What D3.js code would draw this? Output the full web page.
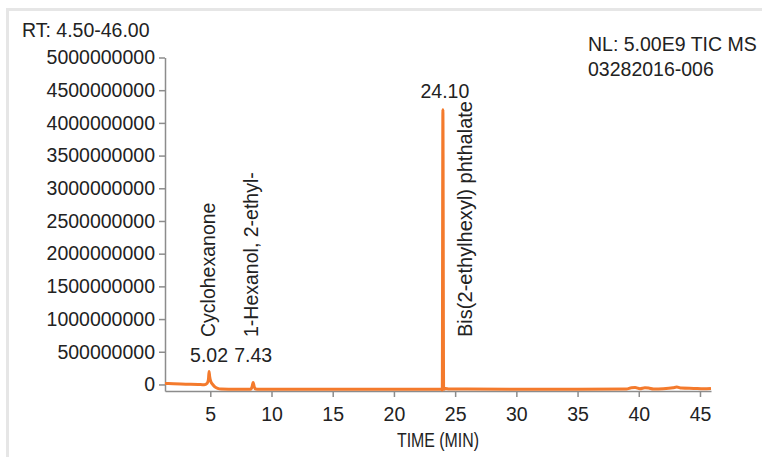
<!DOCTYPE html>
<html lang="en">
<head>
<meta charset="utf-8">
<title>TIC chromatogram</title>
<style>
  html, body { margin: 0; background: #fff; }
  svg { font-family: 'Liberation Sans', Arial, sans-serif; }
  .axis path, .axis line { stroke: #8c8c8c; stroke-width: 1.5; }
  .axis text { fill: #222; font-size: 19.5px; }
  .trace { fill: none; stroke: #f47a2c; stroke-width: 3; stroke-linejoin: round; }
  .lbl { fill: #222; font-size: 19.5px; }
</style>
</head>
<body>
<div id="vis"></div>
<script src="https://d3js.org/d3.v7.min.js"></script>
<script>
// retention time (min) and intensity
var times = [1.3, 2, 3, 4, 4.5, 4.75, 4.85, 4.9, 4.95, 5.05, 5.2, 5.4, 5.6, 5.9, 6.5,
  8.3, 8.42, 8.5, 8.58, 8.7, 9, 15, 20, 23.85, 23.95, 24.0, 24.06, 24.2, 24.5,
  26, 30, 35, 39, 39.4, 39.7, 40.1, 40.5, 40.8, 41.2, 42, 42.8, 43.1, 43.5, 44.5, 45.3, 45.9];
var intensity = [1.5e7, 1.2e7, 5e6, 0, -5e6, 2e7, 8e7, 2.0e8, 1.2e8, 4e7, 0, -4e7, -6e7, -7e7, -7.2e7,
  -7.2e7, -3e7, 3e7, -3e7, -6.8e7, -7.2e7, -7.3e7, -7.3e7, -7.3e7, -8.5e7, 4.2e9, -7.5e7, -6.2e7, -6.8e7,
  -7e7, -7.2e7, -7.2e7, -7e7, -5e7, -4.8e7, -6.5e7, -5e7, -5.5e7, -7e7, -6.5e7, -5e7, -4e7, -5.5e7, -6e7, -6.5e7, -6e7];

var peakTimes = [4.9, 8.5, 24.0];
var peakRT = ['5.02', '7.43', '24.10'];
var peakNames = ['Cyclohexanone', '1-Hexanol, 2-ethyl-', 'Bis(2-ethylhexyl) phthalate'];

var yTicks = [0, 5e8, 1e9, 1.5e9, 2e9, 2.5e9, 3e9, 3.5e9, 4e9, 4.5e9, 5e9];
var xTicks = [5, 10, 15, 20, 25, 30, 35, 40, 45];

var width = 762, height = 457;
var svg = d3.select('#vis').append('svg')
  .attr('width', width)
  .attr('height', height);

// light frame
svg.append('rect')
  .attr('x', 7.5).attr('y', 9.5)
  .attr('width', 800).attr('height', 500)
  .attr('fill', 'none')
  .attr('stroke', '#e6e6e6')
  .attr('stroke-width', 3);

var x = d3.scaleLinear().domain([1.3, 45.9]).range([165, 711]);
var y = d3.scaleLinear().domain([-1e8, 5e9]).range([391, 57.5]);

var xAxis = d3.axisBottom(x).tickValues(xTicks).tickSize(6).tickPadding(5).tickSizeOuter(0);
var yAxis = d3.axisLeft(y).tickValues(yTicks).tickSize(6).tickPadding(4).tickSizeOuter(0)
  .tickFormat(d3.format('d'));

svg.append('g')
  .attr('class', 'x axis')
  .attr('transform', 'translate(0,' + y.range()[0] + ')')
  .call(xAxis)
  .selectAll('text').attr('dy', '0.95em');

svg.append('g')
  .attr('class', 'y axis')
  .attr('transform', 'translate(' + x.range()[0] + ',0)')
  .call(yAxis);

var line = d3.line()
  .x(function(d, i) { return x(times[i]); })
  .y(function(d) { return y(d); })
  .curve(d3.curveMonotoneX);

svg.append('path')
  .datum(intensity)
  .attr('class', 'trace')
  .attr('d', line);

// peak labels
var nameDx = [6, 5, 29];
peakTimes.forEach(function(t, i) {
  var px = x(t);
  var rtY = i < 2 ? 362 : y(4.2e9) - 12;
  svg.append('text')
    .attr('class', 'lbl')
    .attr('x', px + (i < 2 ? 0 : 2))
    .attr('y', rtY)
    .attr('text-anchor', 'middle')
    .text(peakRT[i]);
  var name = svg.append('text')
    .attr('class', 'lbl')
    .attr('transform', 'translate(' + (px + nameDx[i]) + ',337) rotate(-90)')
    .text(peakNames[i]);
  if (i === 2) {
    name.attr('textLength', 236).attr('lengthAdjust', 'spacingAndGlyphs');
  }
});

svg.append('text')
  .attr('class', 'lbl')
  .attr('x', 22).attr('y', 37)
  .text('RT: 4.50-46.00');

svg.append('text')
  .attr('class', 'lbl')
  .attr('x', 588).attr('y', 51)
  .text('NL: 5.00E9 TIC MS');

svg.append('text')
  .attr('class', 'lbl')
  .attr('x', 588).attr('y', 76)
  .text('03282016-006');

svg.append('text')
  .attr('class', 'lbl')
  .attr('x', 438).attr('y', 447)
  .attr('text-anchor', 'middle')
  .attr('textLength', 82)
  .attr('lengthAdjust', 'spacingAndGlyphs')
  .text('TIME (MIN)');
</script>
</body>
</html>
